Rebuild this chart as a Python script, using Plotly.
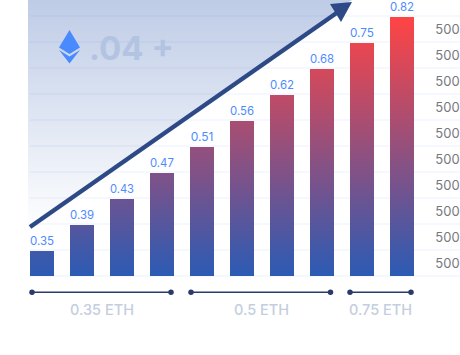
import plotly.graph_objects as go

W, H = 460, 355
price_labels = ["0.35", "0.39", "0.43", "0.47", "0.51", "0.56", "0.62", "0.68", "0.75", "0.82"]
bar_levels = [0.96, 1.96, 2.96, 3.96, 4.96, 5.96, 6.96, 7.96, 8.96, 9.96]
grid_levels = [0, 1, 2, 3, 4, 5, 6, 7, 8, 9, 10]
axis_levels = [0.43, 1.43, 2.43, 3.43, 4.43, 5.43, 6.43, 7.43, 8.43, 9.43]
axis_labels = ["500"] * 10
bracket_labels = ["0.35 ETH", "0.5 ETH", "0.75 ETH"]
bracket_starts = [-0.25, 3.725, 7.70]
bracket_ends = [3.225, 7.2125, 9.225]

FONT = "Inter"
XR = [-1.05, 10.45]
YR = [-3.038, 10.615]
BW = 0.6
cats = list(range(len(bar_levels)))


def dx(p):
    return XR[0] + p / W * (XR[1] - XR[0])


def dy(p):
    return YR[1] - p / H * (YR[1] - YR[0])


fig = go.Figure()

# background wedge above the arrow
fig.add_trace(go.Scatter(
    x=[dx(28), dx(352), dx(30), dx(28), dx(28)], y=[dy(0), dy(0), dy(229), dy(229), dy(0)],
    mode="none", fill="toself", hoverinfo="skip",
    fillgradient=dict(type="vertical", start=dy(232), stop=dy(0),
                      colorscale=[[0, "rgba(60,100,180,0)"], [1, "rgba(60,100,180,0.33)"]]),
))

# grid
gx, gy = [], []
for g in grid_levels:
    gx += [dx(30), XR[1], None]
    gy += [g, g, None]
fig.add_trace(go.Scatter(x=gx, y=gy, mode="lines", hoverinfo="skip",
                         line=dict(color="rgba(70,120,240,0.10)", width=1)))

# value labels carried by real bars
fig.add_trace(go.Bar(x=cats, y=bar_levels, width=BW, text=price_labels, textposition="outside",
                     cliponaxis=False, textangle=0,
                     textfont=dict(family=FONT, size=12, color="#4d8bff"),
                     marker=dict(color="rgba(0,0,0,0)", line=dict(width=0))))

# gradient faces of the bars
bx, by = [], []
for c, v in zip(cats, bar_levels):
    bx += [c - BW / 2, c + BW / 2, c + BW / 2, c - BW / 2, c - BW / 2, None]
    by += [0, 0, v, v, 0, None]
fig.add_trace(go.Scatter(
    x=bx, y=by, mode="none", fill="toself", hoverinfo="skip",
    fillgradient=dict(type="vertical", start=0, stop=max(bar_levels),
                      colorscale=[[0, "#2c5bb4"], [1, "#ff4444"]]),
))

# right-hand labels
fig.add_trace(go.Scatter(x=[dx(447.5)] * len(axis_levels), y=axis_levels, mode="text", text=axis_labels,
                         textfont=dict(family=FONT, size=13, color="#77787f"), hoverinfo="skip"))

# brackets
for s, e, lab in zip(bracket_starts, bracket_ends, bracket_labels):
    fig.add_trace(go.Scatter(x=[s, e], y=[dy(292.3)] * 2, mode="lines+markers", hoverinfo="skip",
                             line=dict(color="#2a3a6b", width=1.5),
                             marker=dict(color="#2a3a6b", size=5.5)))
    fig.add_annotation(x=(s + e) / 2 + 0.01, y=dy(309), text=lab,
                       showarrow=False, font=dict(family=FONT, size=14.5, color="#c4cee0", weight=500))

# arrow
fig.add_trace(go.Scatter(x=[dx(30), dx(338)], y=[dy(227), dy(12)], mode="lines", hoverinfo="skip",
                         line=dict(color="#2d4a86", width=4.5)))
fig.add_trace(go.Scatter(x=[dx(330), dx(352), dx(341), dx(330)], y=[dy(4), dy(2), dy(22), dy(4)],
                         mode="none", fill="toself", fillcolor="#2d4a86", hoverinfo="skip"))

# ether glyph and headline
for pts in ([(69.5, 30), (80, 47.5), (69.5, 54), (59, 47.5)], [(59, 50), (69.5, 56.5), (80, 50), (69.5, 63.5)]):
    path = "M " + " L ".join(f"{x / W:.4f},{1 - y / H:.4f}" for x, y in pts) + " Z"
    fig.add_shape(type="path", xref="paper", yref="paper", path=path,
                  fillcolor="#4a8aff", line=dict(width=0))
fig.add_annotation(xref="paper", yref="paper", x=87 / W, y=1 - 47.5 / H, xanchor="left", yanchor="middle",
                   text=".04 +", showarrow=False,
                   font=dict(family=FONT, size=33, color="#b3c3e2", weight=700))

fig.update_layout(width=W, height=H, margin=dict(l=0, r=0, t=0, b=0), showlegend=False,
                  paper_bgcolor="white", plot_bgcolor="white", bargap=0,
                  xaxis=dict(range=XR, visible=False, fixedrange=True),
                  yaxis=dict(range=YR, visible=False, fixedrange=True))
fig.write_html("out.html", config=dict(displayModeBar=False),
               post_script="document.body.style.margin='0';document.body.style.overflow='hidden';")
